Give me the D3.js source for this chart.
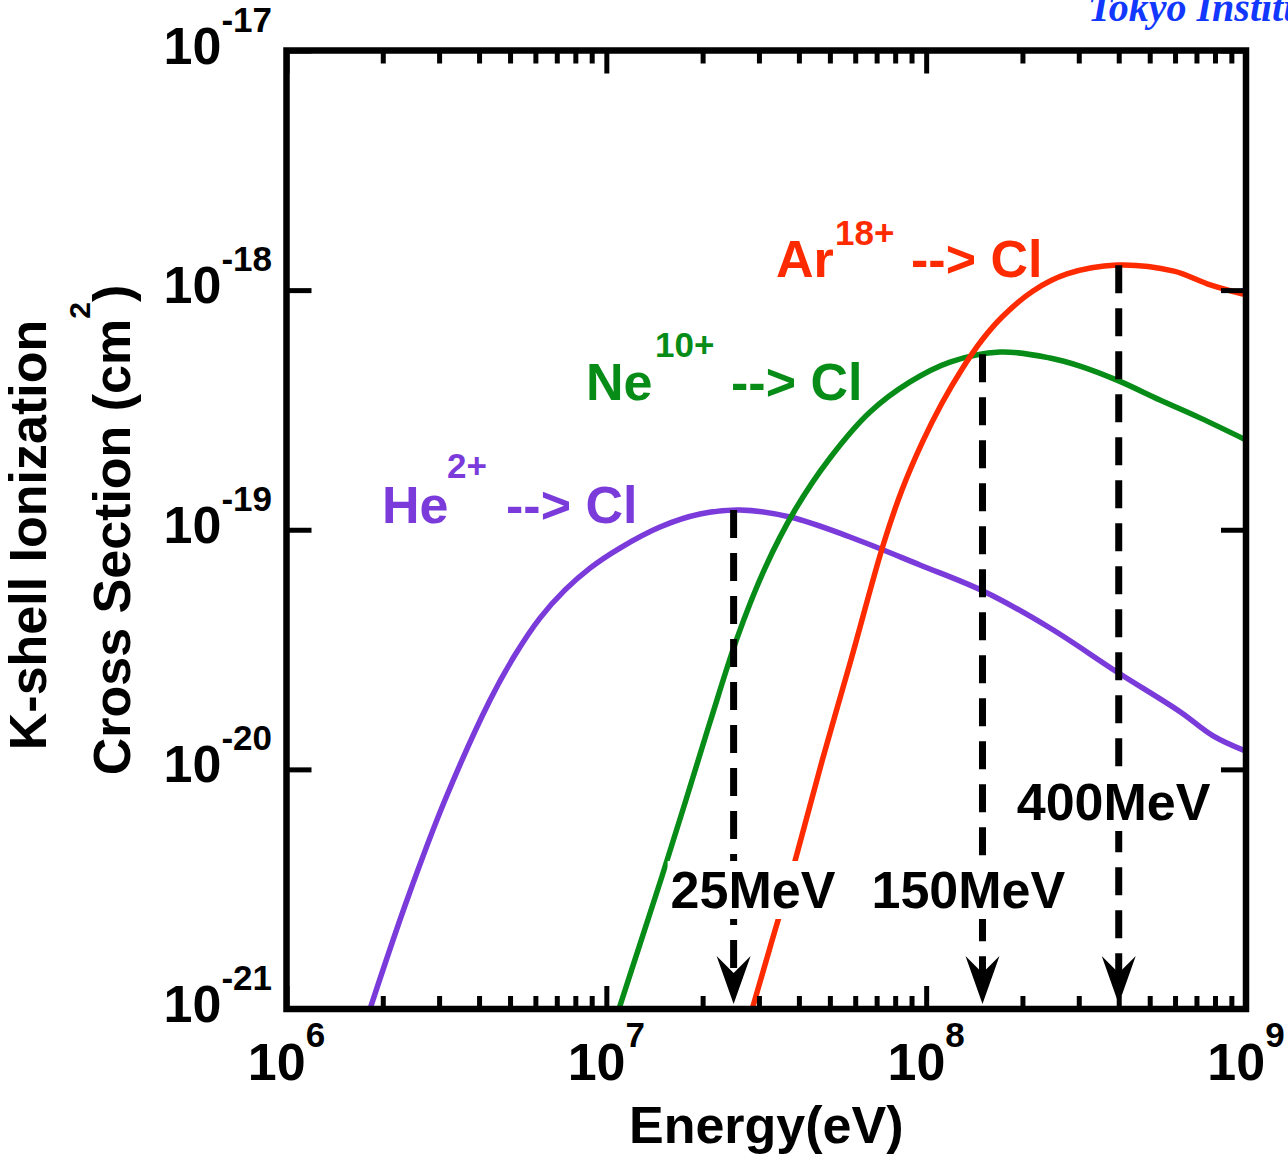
<!DOCTYPE html>
<html>
<head>
<meta charset="utf-8">
<script src="https://cdn.jsdelivr.net/npm/d3@7"></script>
<style>
  html, body { margin: 0; padding: 0; background: #fff; }
  svg { display: block; font-family: "Liberation Sans", Arial, Helvetica, sans-serif; font-weight: bold; }
</style>
</head>
<body>
<svg id="chart" width="1288" height="1156"></svg>
<script>
// K-shell ionization cross sections of Cl for three projectile ions (energy in eV, sigma in cm^2)
const energyHe = [1.824e6, 2.381e6, 3.13e6, 4.33e6, 5.18e6, 6.20e6, 7.43e6, 8.89e6, 1.103e7, 1.472e7, 1.963e7, 2.618e7, 3.752e7, 5.78e7, 9.56e7, 1.528e8, 2.439e8, 3.951e8, 6.22e8, 7.89e8, 1.0e9];
const sigmaHe  = [1.0e-21, 2.85e-21, 7.45e-21, 1.948e-20, 3.00e-20, 4.28e-20, 5.61e-20, 6.92e-20, 8.39e-20, 1.027e-19, 1.163e-19, 1.209e-19, 1.130e-19, 9.33e-20, 7.13e-20, 5.50e-20, 3.89e-20, 2.55e-20, 1.74e-20, 1.38e-20, 1.19e-20];

const energyNe = [1.095e7, 1.275e7, 1.494e7, 1.762e7, 2.110e7, 2.563e7, 3.134e7, 3.889e7, 5.004e7, 6.675e7, 8.90e7, 1.187e8, 1.701e8, 2.439e8, 3.027e8, 3.951e8, 5.38e8, 7.18e8, 1.0e9];
const sigmaNe  = [1.0e-21, 1.87e-21, 3.59e-21, 7.24e-21, 1.576e-20, 3.53e-20, 6.92e-20, 1.209e-19, 1.993e-19, 3.10e-19, 4.14e-19, 5.01e-19, 5.52e-19, 5.21e-19, 4.82e-19, 4.21e-19, 3.48e-19, 2.93e-19, 2.37e-19];

const energyAr = [2.858e7, 3.231e7, 3.815e7, 4.74e7, 5.80e7, 7.35e7, 8.40e7, 9.70e7, 1.121e8, 1.295e8, 1.495e8, 1.727e8, 2.159e8, 2.756e8, 3.951e8, 5.95e8, 7.60e8, 1.0e9];
const sigmaAr  = [1.0e-21, 1.76e-21, 3.77e-21, 1.10e-20, 2.82e-20, 8.70e-20, 1.465e-19, 2.30e-19, 3.38e-19, 4.69e-19, 6.19e-19, 7.72e-19, 9.92e-19, 1.168e-18, 1.273e-18, 1.20e-18, 1.06e-18, 9.55e-19];

// Peak energies marked with dashed arrows
const markerEnergy = [2.5e7, 1.5e8, 4.0e8];
const markerSigma  = [1.21e-19, 5.40e-19, 1.27e-18];
const markerLabels = ["25MeV", "150MeV", "400MeV"];

// Axis ticks
const xTickValues = [1e6, 1e7, 1e8, 1e9];
const xTickExp    = ["6", "7", "8", "9"];
const yTickValues = [1e-17, 1e-18, 1e-19, 1e-20, 1e-21];
const yTickExp    = ["-17", "-18", "-19", "-20", "-21"];

const svg = d3.select("#chart");

const plotLeft = 286.5, plotRight = 1246, plotTop = 50.5, plotBottom = 1009;
const x = d3.scaleLog().domain([1e6, 1e9]).range([plotLeft, plotRight]);
const y = d3.scaleLog().domain([1e-21, 1e-17]).range([plotBottom, plotTop]);

// Header text
svg.append("text")
  .attr("x", 1088).attr("y", 21)
  .attr("fill", "#1237ff")
  .style("font-family", "'Liberation Serif', 'Times New Roman', serif")
  .style("font-style", "italic")
  .style("font-weight", "bold")
  .style("font-size", "40px")
  .text("Tokyo Institute of Technology");

// Clip region for the curves
svg.append("defs").append("clipPath").attr("id", "plotClip")
  .append("rect").attr("x", plotLeft).attr("y", plotTop)
  .attr("width", plotRight - plotLeft).attr("height", plotBottom - plotTop);

// Curves
const series = [
  { e: energyHe, s: sigmaHe, color: "#7b3bdb" },
  { e: energyNe, s: sigmaNe, color: "#078c17" },
  { e: energyAr, s: sigmaAr, color: "#ff2b00" }
];
const line = d3.line()
  .x(d => x(d[0])).y(d => y(d[1]))
  .curve(d3.curveCatmullRom.alpha(0.5));

const curves = svg.append("g").attr("clip-path", "url(#plotClip)");
series.forEach(sr => {
  curves.append("path")
    .datum(sr.e.map((v, i) => [v, sr.s[i]]))
    .attr("d", line)
    .attr("fill", "none")
    .attr("stroke", sr.color)
    .attr("stroke-width", 5.5)
    .attr("stroke-linejoin", "round");
});

// Dashed arrows from each peak down to the energy axis
const tipY = y(1e-21) - 5;
const arrows = svg.append("g");
markerEnergy.forEach((e, i) => {
  const px = x(e);
  arrows.append("line")
    .attr("x1", px).attr("x2", px)
    .attr("y1", y(markerSigma[i])).attr("y2", tipY - 30)
    .attr("stroke", "#000").attr("stroke-width", 7)
    .attr("stroke-dasharray", "28,15");
  arrows.append("path")
    .attr("d", `M${px},${tipY} L${px - 17},${tipY - 48} L${px},${tipY - 31} L${px + 17},${tipY - 48} Z`)
    .attr("fill", "#000");
});

// Energy labels with white backing
const labelPos = [
  { dx: -63, y: 908 },
  { dx: -111, y: 908 },
  { dx: -102, y: 820 }
];
markerLabels.forEach((t, i) => {
  const g = svg.append("g");
  const txt = g.append("text")
    .attr("x", x(markerEnergy[i]) + labelPos[i].dx)
    .attr("y", labelPos[i].y)
    .style("font-size", "52px")
    .attr("fill", "#000")
    .text(t);
  const bb = txt.node().getBBox();
  g.insert("rect", "text")
    .attr("x", bb.x - 3).attr("y", bb.y)
    .attr("width", bb.width + 6).attr("height", bb.height)
    .attr("fill", "#fff");
});

// Series labels
const seriesLabels = [
  { ion: "He", charge: "2+", color: "#7b3bdb", x: 382, xs: 447, xa: 506, yb: 523, ys: 478 },
  { ion: "Ne", charge: "10+", color: "#078c17", x: 586, xs: 655, xa: 731, yb: 400, ys: 357 },
  { ion: "Ar", charge: "18+", color: "#ff2b00", x: 776, xs: 835, xa: 911, yb: 277, ys: 245 }
];
seriesLabels.forEach(l => {
  const t = svg.append("text").attr("fill", l.color);
  t.append("tspan").attr("x", l.x).attr("y", l.yb).style("font-size", "52px").text(l.ion);
  t.append("tspan").attr("x", l.xs).attr("y", l.ys).style("font-size", "35px").text(l.charge);
  t.append("tspan").attr("x", l.xa).attr("y", l.yb).style("font-size", "52px").text("--> Cl");
});

// Tick marks (inward) on all four sides
const decadesMinor = [];
[1e6, 1e7, 1e8].forEach(d => { for (let k = 2; k <= 9; k++) decadesMinor.push(d * k); });

function tickGroup(axis, transform) {
  svg.append("g").attr("transform", transform).call(axis)
    .call(g => {
      g.select(".domain").remove();
      g.selectAll("text").remove();
      g.selectAll("line").attr("stroke", "#000").attr("stroke-width", 5);
    });
}
tickGroup(d3.axisTop(x).tickValues(decadesMinor).tickSize(13), `translate(0,${plotBottom})`);
tickGroup(d3.axisTop(x).tickValues(xTickValues).tickSize(23), `translate(0,${plotBottom})`);
tickGroup(d3.axisBottom(x).tickValues(decadesMinor).tickSize(13), `translate(0,${plotTop})`);
tickGroup(d3.axisBottom(x).tickValues(xTickValues).tickSize(23), `translate(0,${plotTop})`);
tickGroup(d3.axisRight(y).tickValues(yTickValues).tickSize(25), `translate(${plotLeft},0)`);
tickGroup(d3.axisLeft(y).tickValues(yTickValues).tickSize(25), `translate(${plotRight},0)`);

// Frame
svg.append("rect")
  .attr("x", plotLeft).attr("y", plotTop)
  .attr("width", plotRight - plotLeft).attr("height", plotBottom - plotTop)
  .attr("fill", "none").attr("stroke", "#000").attr("stroke-width", 6.5);

// X tick labels
xTickValues.forEach((v, i) => {
  const t = svg.append("text")
    .attr("x", x(v)).attr("y", plotBottom + 71)
    .attr("text-anchor", "middle").attr("fill", "#000")
    .style("font-size", "52px");
  t.append("tspan").text("10");
  t.append("tspan").attr("dy", -33).style("font-size", "35px").text(xTickExp[i]);
});

// Y tick labels
yTickValues.forEach((v, i) => {
  const t = svg.append("text")
    .attr("x", 272).attr("y", y(v) + 13)
    .attr("text-anchor", "end").attr("fill", "#000")
    .style("font-size", "52px");
  t.append("tspan").text("10");
  t.append("tspan").attr("dy", -32).style("font-size", "35px").text(yTickExp[i]);
});

// Axis titles
svg.append("text")
  .attr("x", (plotLeft + plotRight) / 2).attr("y", 1143)
  .attr("text-anchor", "middle").style("font-size", "52px")
  .text("Energy(eV)");

svg.append("text")
  .attr("transform", "translate(46,535) rotate(-90)")
  .attr("text-anchor", "middle").style("font-size", "52px")
  .text("K-shell Ionization");

const yt = svg.append("text")
  .attr("transform", "translate(130,530) rotate(-90)")
  .attr("text-anchor", "middle").style("font-size", "52px");
yt.append("tspan").text("Cross Section (cm");
yt.append("tspan").attr("dy", -40).style("font-size", "30px").text("2");
yt.append("tspan").attr("dy", 40).text(")");
</script>
</body>
</html>
